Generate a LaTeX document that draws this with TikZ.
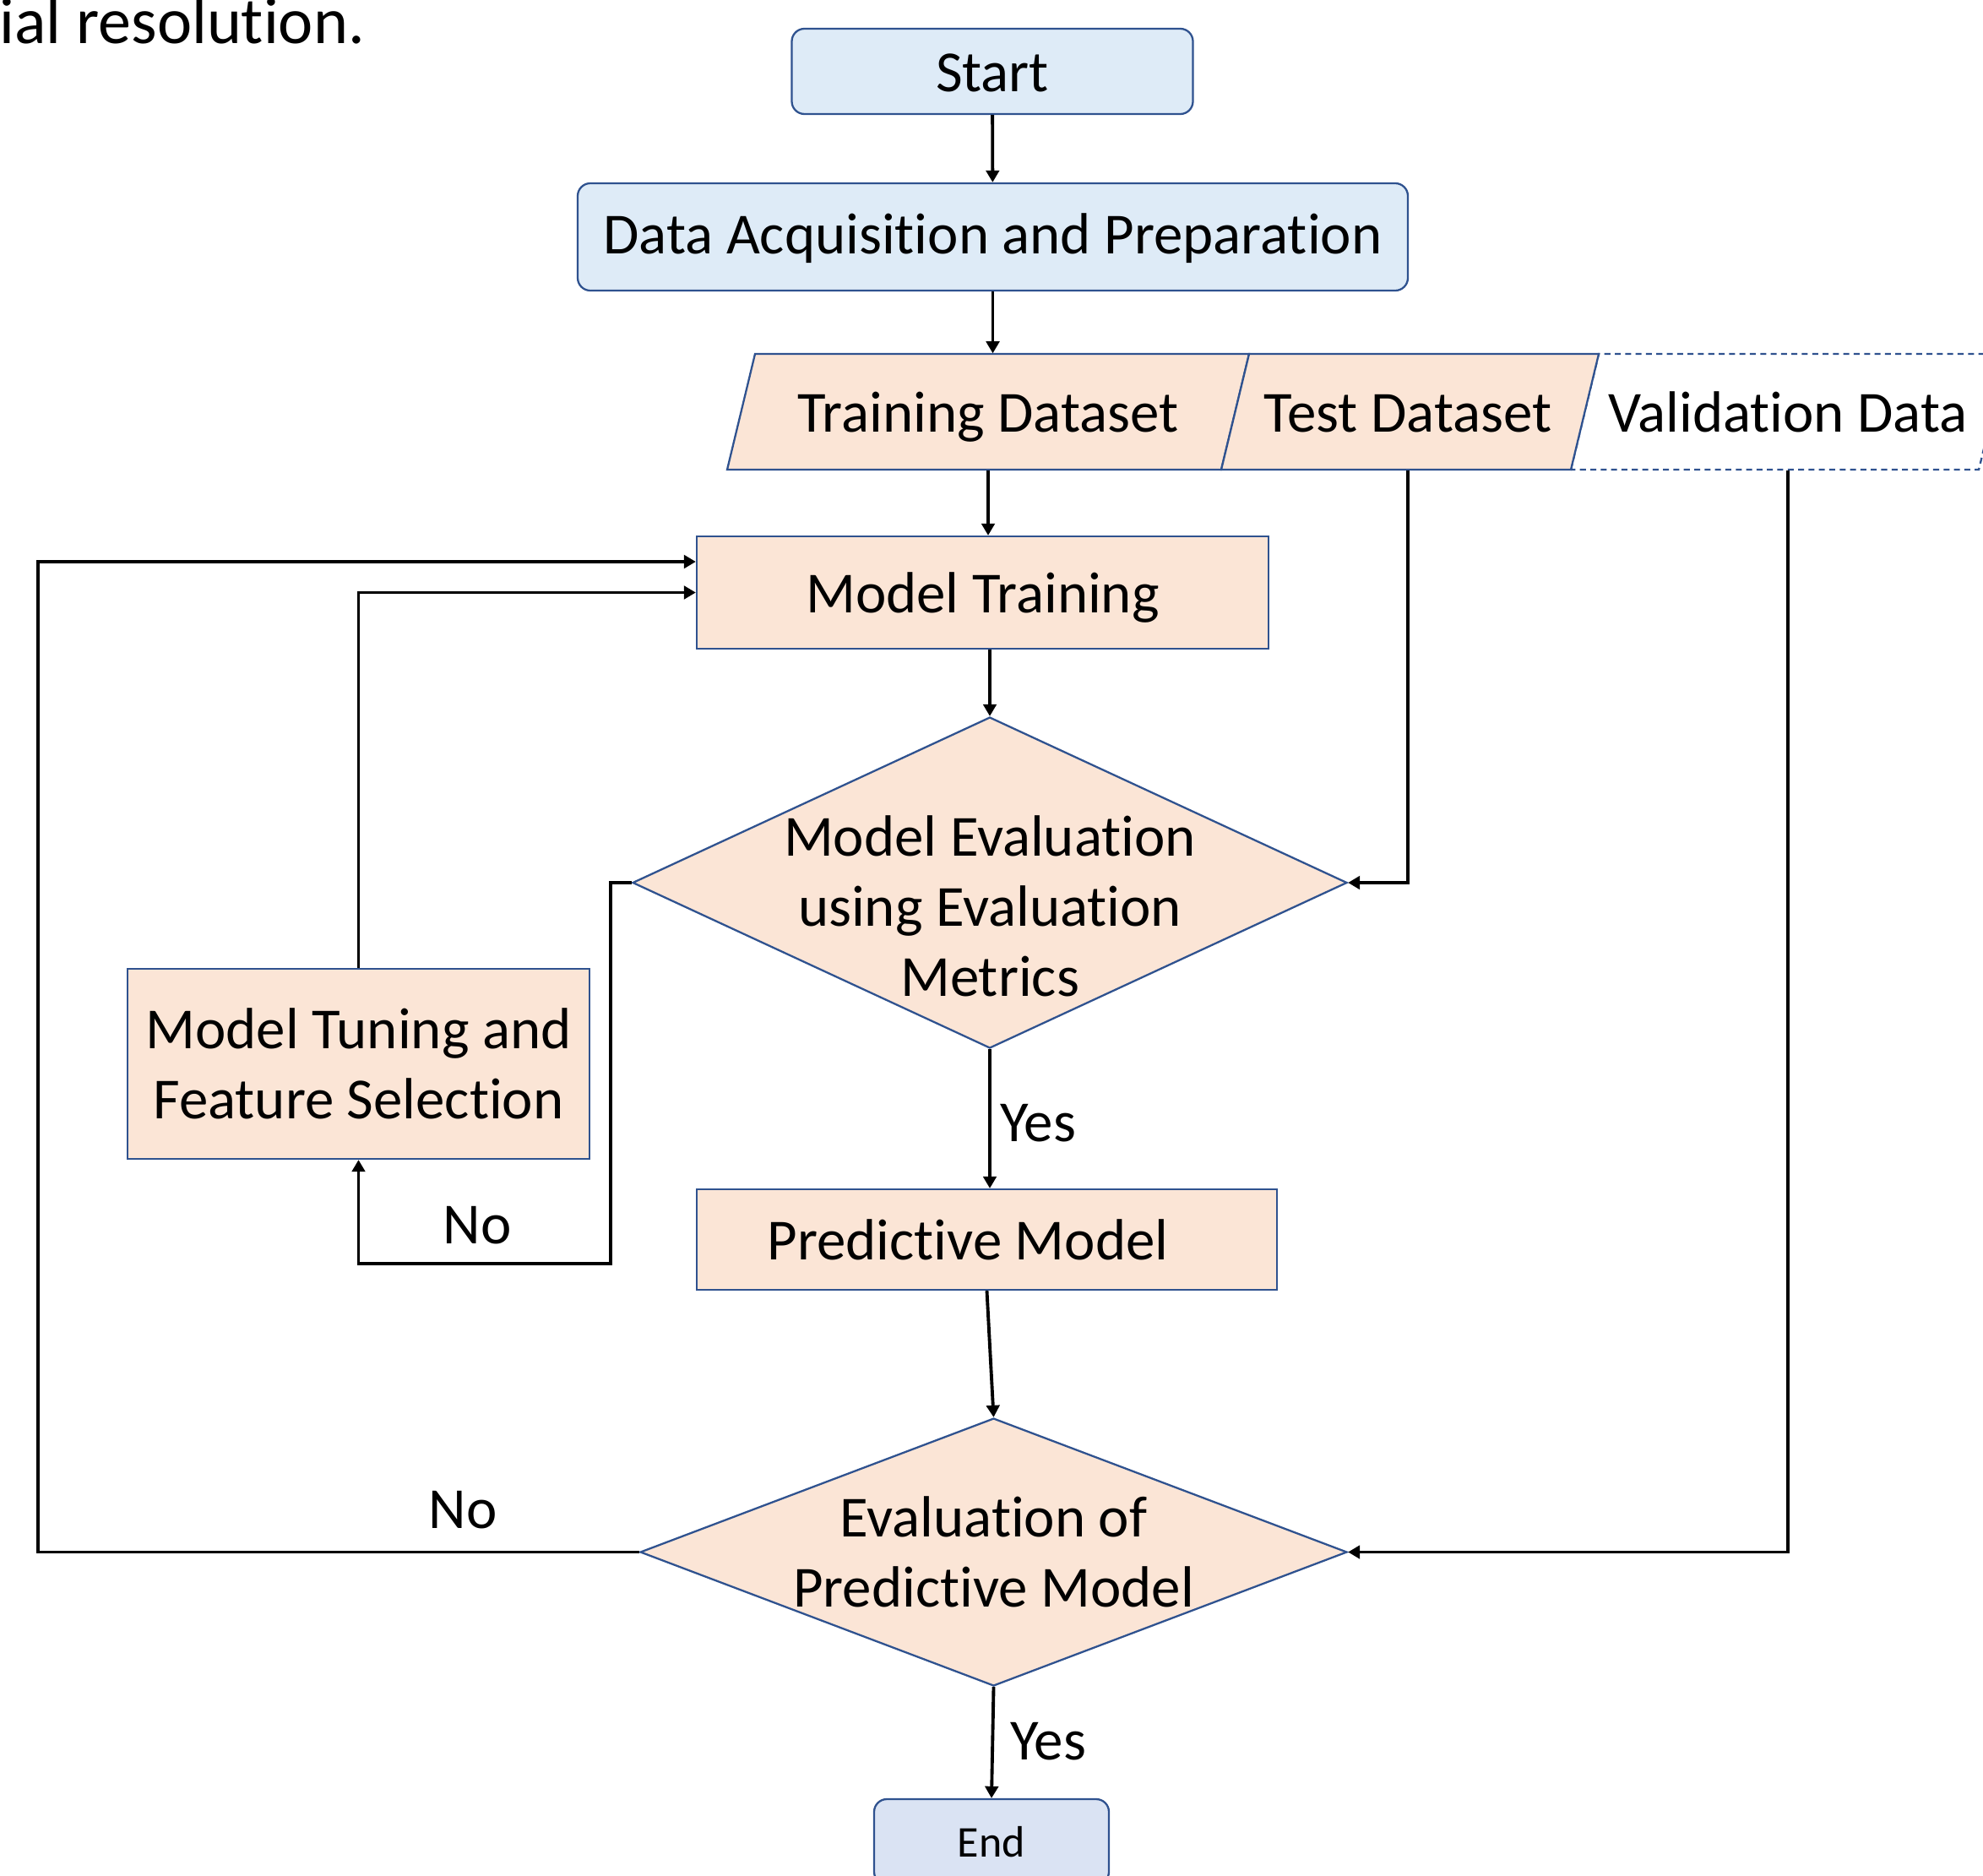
\documentclass[tikz,border=0pt]{standalone}
\usepackage{fontspec}
\setmainfont{Carlito}[Ligatures=NoCommon]
\usetikzlibrary{shapes.geometric,arrows.meta}
\definecolor{peach}{HTML}{FBE5D6}
\definecolor{paleblue}{HTML}{DEEBF7}
\definecolor{endblue}{HTML}{DAE3F3}
\definecolor{edgeblue}{HTML}{2F528F}

\begin{document}
\begin{tikzpicture}
		\tikzset{box/.style = {shape=rectangle, draw=edgeblue, line width=0.65pt, fill=peach, inner sep=0pt},
		term/.style = {box, rounded corners=0.15cm, fill=paleblue},
		dec/.style = {shape=diamond, draw=edgeblue, line width=0.65pt, fill=peach, inner sep=0pt},
		oneline/.style = {text height=16pt, text depth=2.1pt},
		arr/.style = {-{Triangle[length=4pt,width=4.4pt]}, line width=1.1pt},
		lbl/.style = {inner sep=0pt},
		every node/.style = {font=\fontsize{19.6}{23.6}\selectfont}}

		\useasboundingbox (0,0) rectangle (23.48,-22.20);
		\clip (0,0) rectangle (23.48,-22.20);

		\node[lbl, anchor=base west, font=\fontsize{22.2}{26}\selectfont] (cap) at (-0.01,-0.52) {ial resolution.};

		% data sets
		\draw[edgeblue, line width=0.65pt, dash pattern=on 2pt off 1.5pt] (18.60,-5.56) -- (18.93,-4.19) -- (23.76,-4.19) -- (23.43,-5.56) -- cycle;
		\draw[edgeblue, line width=0.65pt, fill=peach] (8.61,-5.56) -- (8.94,-4.19) -- (14.79,-4.19) -- (14.46,-5.56) -- cycle;
		\draw[edgeblue, line width=0.65pt, fill=peach] (14.46,-5.56) -- (14.79,-4.19) -- (18.93,-4.19) -- (18.60,-5.56) -- cycle;

		\node[term, oneline, minimum width=4.75cm, minimum height=1.01cm] (start) at (11.75,-0.845) {Start};
		\node[term, text height=13.2pt, text depth=2.1pt, minimum width=9.83cm, minimum height=1.27cm] (acq) at (11.755,-2.805) {Data Acquisition and Preparation};

		\node[lbl, oneline, minimum height=1.37cm] (trn) at (11.70,-4.875) {Training Dataset};
		\node[lbl, oneline, minimum height=1.37cm] (tst) at (16.67,-4.875) {Test Dataset};
		\node[lbl, oneline, minimum height=1.37cm] (val) at (21.17,-4.875) {Validation Data};

		\node[box, oneline, minimum width=6.77cm, minimum height=1.33cm] (mtr) at (11.635,-7.015) {Model Training};
		\node[dec, minimum width=8.46cm, minimum height=3.92cm,
			label={[align=center, yshift=-0.28cm]center:Model Evaluation\\using Evaluation\\Metrics}] (ev1) at (11.72,-10.45) {};
		\node[box, minimum width=5.47cm, minimum height=2.25cm, align=center] (tun) at (4.245,-12.595) {Model Tuning and\\Feature Selection};
		\node[box, oneline, minimum width=6.87cm, minimum height=1.19cm] (pred) at (11.685,-14.675) {Predictive Model\kern0.45cm};
		\node[dec, minimum width=8.37cm, minimum height=3.17cm,
			label={[align=center]center:Evaluation of\\Predictive Model}] (ev2) at (11.765,-18.375) {};
		\node[term, text height=12pt, text depth=2pt, fill=endblue, minimum width=2.78cm, minimum height=1.01cm, font=\fontsize{14.8}{17.8}\selectfont] (end) at (11.74,-21.805) {End};

		\coordinate (nb) at (7.23,-14.96);
		\coordinate (nt) at (0.45,-6.65);

		\draw[arr] (start) -- (acq);
		\draw[arr] (acq.south) -- (acq.south |- trn.north);
		\draw[arr] (trn.south) -- (trn.south |- mtr.north);
		\draw[arr] (mtr.south -| ev1.north) -- (ev1.north);
		\draw[arr] (tst.south) |- (ev1.east);
		\draw[arr] (val.south) |- (ev2.east);
		\draw[arr] (ev1.west) -| (nb) -| (tun.south);
		\draw[arr] (tun.north) |- (mtr.west);
		\draw[arr] (ev2.west) -| (nt) -- (mtr.west |- nt);
		\draw[arr] (ev1.south) -- (ev1.south |- pred.north);
		\draw[arr] (pred.south) -- (ev2.north);
		\draw[arr] (ev2.south) -- (end.north);

		\node[lbl] (yes1) at (12.29,-13.30) {Yes};
		\node[lbl] (no1) at (5.65,-14.51) {No};
		\node[lbl] (no2) at (5.48,-17.88) {No};
		\node[lbl] (yes2) at (12.41,-20.62) {Yes};

	\end{tikzpicture}
\end{document}
